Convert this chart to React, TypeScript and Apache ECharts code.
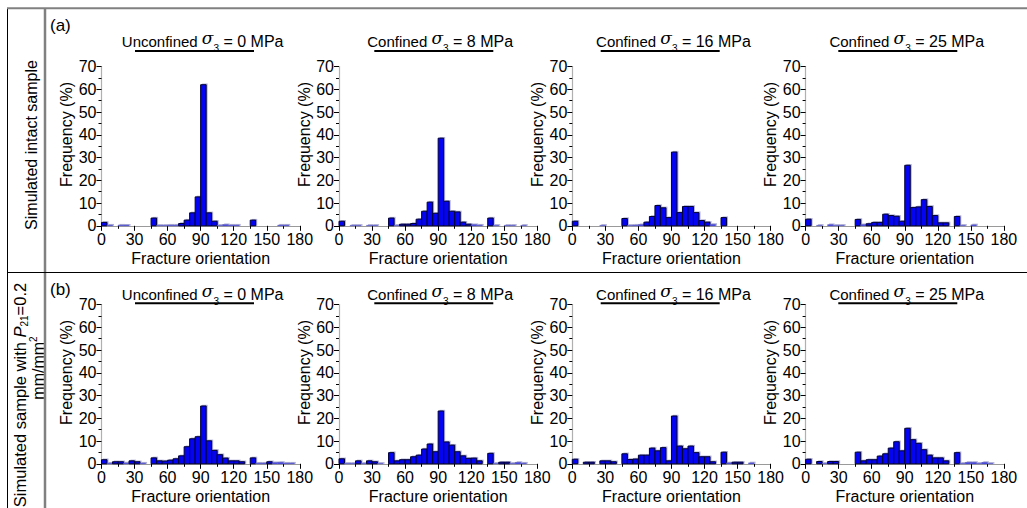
import React, { useEffect, useRef } from "react";
import * as echarts from "echarts";

// ---------- data ----------
const BIN_STARTS = [0, 5, 10, 15, 20, 25, 30, 35, 40, 45, 50, 55, 60, 65, 70, 75, 80, 85, 90, 95, 100, 105, 110, 115, 120, 125, 130, 135, 140, 145, 150, 155, 160, 165, 170, 175];
const BIN_WIDTH = 5;

const INTACT_S0 = [1.5, 0.3, 0, 0.3, 0.3, 0, 0, 0, 0, 3.4, 0.2, 0.2, 0.3, 0.3, 1.0, 2.5, 5.7, 12.7, 62, 5.7, 2.0, 0.2, 0.5, 0.3, 0.3, 0, 0, 2.5, 0, 0, 0, 0, 0.3, 0.3, 0, 0];
const INTACT_S8 = [2.0, 0, 0.2, 0.2, 0, 0.2, 0.2, 0, 0, 3.4, 0.2, 0.7, 0.7, 1.0, 2.9, 6.4, 10.4, 5.5, 38.5, 10.8, 6.4, 6.1, 1.6, 0.7, 0.5, 0.3, 0, 3.4, 0.2, 0, 0.2, 0.2, 0, 0.2, 0, 0];
const INTACT_S16 = [2.0, 0, 0, 0, 0, 0.2, 0, 0, 0, 3.2, 0.2, 0.3, 0.5, 1.6, 4.1, 8.9, 7.9, 3.6, 32.4, 5.8, 8.5, 8.5, 5.8, 2.3, 1.6, 0.6, 0, 3.6, 0, 0, 0, 0, 0, 0, 0, 0];
const INTACT_S25 = [2.9, 0, 0.2, 0, 0.5, 0.2, 0.2, 0, 0, 2.8, 0.5, 0.9, 1.5, 1.5, 5.1, 4.5, 4.2, 2.0, 26.6, 8.0, 8.3, 11.5, 8.5, 4.5, 1.3, 1.3, 0, 4.1, 0.2, 0, 0.4, 0, 0, 0, 0, 0];

const P21_S0 = [1.8, 0.3, 0.9, 0.9, 0.4, 1.3, 0.9, 0.3, 0, 2.6, 1.3, 1.2, 1.6, 2.2, 3.5, 7.5, 11.0, 11.9, 25.4, 10.1, 5.9, 4.0, 2.5, 1.3, 1.3, 0.9, 0, 2.6, 0.3, 0.3, 0.9, 0.5, 0.6, 0.3, 0.3, 0];
const P21_S8 = [2.2, 0.2, 0.2, 1.3, 0.2, 1.3, 0.9, 0.2, 0, 4.9, 1.3, 1.8, 1.8, 3.1, 3.8, 6.5, 8.7, 5.3, 23.2, 9.6, 8.2, 5.3, 3.5, 2.4, 2.5, 1.3, 0, 4.6, 0.2, 0.7, 0.7, 0.2, 0.6, 0.3, 0, 0];
const P21_S16 = [2.0, 0, 0.7, 0.7, 0, 1.3, 1.3, 0.9, 0, 4.4, 1.9, 2.1, 3.8, 3.8, 6.9, 5.7, 7.1, 1.3, 21.0, 7.8, 6.6, 7.8, 4.9, 3.1, 3.1, 0.9, 0, 5.1, 0.4, 0.7, 0.7, 0, 0.4, 0, 0, 0];
const P21_S25 = [2.0, 0, 1.0, 0.2, 1.0, 1.0, 0, 0, 0, 5.1, 1.3, 1.8, 1.8, 3.4, 4.4, 6.9, 9.7, 5.7, 15.6, 10.6, 9.0, 6.2, 3.8, 2.6, 2.6, 1.3, 0, 4.9, 0.2, 0.6, 0.6, 0.2, 0.6, 0.2, 0, 0];

const PANEL_VALUES = [INTACT_S0, INTACT_S8, INTACT_S16, INTACT_S25, P21_S0, P21_S8, P21_S16, P21_S25];

const CONDITION_LABELS = ["Unconfined", "Confined", "Confined", "Confined"];
const SIGMA3_VALUES = ["0", "8", "16", "25"];
const PANEL_LETTERS = ["(a)", "(b)"];

const X_MIN = 0;
const X_MAX = 180;
const X_INTERVAL = 30;
const Y_MIN = 0;
const Y_MAX = 70;
const Y_INTERVAL = 10;
const X_NAME = "Fracture orientation";
const Y_NAME = "Frequency (%)";

// ---------- layout ----------
const W = 1027;
const H = 508;
const COL_LEFT = [101.5, 339, 572.3, 805.6];
const PLOT_W = 198.3;
const ROW_TOP = [66.5, 304.5];
const PLOT_H = 159.3;
const TITLE_Y = [41.5, 294.5];
const UNDERLINE_Y = [51, 303.3];
const UNDERLINE_X = [135, 374.3, 600.7, 838.3];
const UNDERLINE_W = 119;

const FONT = "'Liberation Sans', Arial, Helvetica, sans-serif";
const NARROW = "'Liberation Sans Narrow', 'Arial Narrow', 'Liberation Sans', sans-serif";

function renderBar(params: any, api: any) {
  const start = api.value(0) as number;
  const v = api.value(1) as number;
  if (!(v > 0)) return null;
  const p0 = api.coord([start, 0]);
  const p1 = api.coord([start + BIN_WIDTH, v]);
  const x = p0[0];
  const y = p1[1];
  const w = p1[0] - p0[0];
  const h = p0[1] - p1[1];
  const tiny = h < 1.5;
  return {
    type: "group",
    children: [
      {
        type: "rect",
        shape: { x: x + 1.5, y: y - 1.2, width: w, height: h + 1.2 },
        style: { fill: "#b0b0d8" },
      },
      {
        type: "rect",
        shape: { x, y, width: w, height: h },
        style: { fill: "#0404f2", stroke: tiny ? "#7070c0" : "#000030", lineWidth: tiny ? 0.6 : 1 },
      },
    ],
  };
}

export default function App() {
  const ref = useRef<HTMLDivElement>(null);

  useEffect(() => {
    if (!ref.current) return;
    const chart = echarts.init(ref.current, undefined, { renderer: "svg", width: W, height: H });

    const grids: any[] = [];
    const xAxes: any[] = [];
    const yAxes: any[] = [];
    const series: any[] = [];
    const graphics: any[] = [];

    PANEL_VALUES.forEach((vals, i) => {
      const row = Math.floor(i / 4);
      const col = i % 4;
      grids.push({ left: COL_LEFT[col], top: ROW_TOP[row], width: PLOT_W, height: PLOT_H, containLabel: false });
      xAxes.push({
        type: "value",
        gridIndex: i,
        min: X_MIN,
        max: X_MAX,
        interval: X_INTERVAL,
        axisLine: { show: true, onZero: false, lineStyle: { color: "#9a9a9a", width: 1.2 } },
        axisTick: { show: true, length: 5, lineStyle: { color: "#000", width: 1 } },
        minorTick: { show: true, splitNumber: 2, length: 3, lineStyle: { color: "#000", width: 1 } },
        splitLine: { show: false },
        axisLabel: { color: "#000", fontSize: 16, fontFamily: FONT, margin: 6 },
        name: X_NAME,
        nameLocation: "middle",
        nameGap: 25,
        nameTextStyle: { color: "#000", fontSize: 16, fontFamily: FONT },
      });
      yAxes.push({
        type: "value",
        gridIndex: i,
        min: Y_MIN,
        max: Y_MAX,
        interval: Y_INTERVAL,
        axisLine: { show: true, lineStyle: { color: "#b0b0b0", width: 1.2 } },
        axisTick: { show: true, length: 5, lineStyle: { color: "#000", width: 1 } },
        minorTick: { show: true, splitNumber: 2, length: 3, lineStyle: { color: "#000", width: 1 } },
        splitLine: { show: false },
        axisLabel: { color: "#000", fontSize: 16, fontFamily: FONT, margin: 5 },
      });
      series.push({
        type: "custom",
        xAxisIndex: i,
        yAxisIndex: i,
        renderItem: renderBar,
        data: BIN_STARTS.map((s, k) => [s, vals[k]]),
      });

      // y axis name
      graphics.push({
        type: "text",
        x: COL_LEFT[col] - 35,
        y: ROW_TOP[row] + 68,
        rotation: Math.PI / 2,
        style: { text: Y_NAME, font: `16px ${FONT}`, fill: "#000", align: "center", verticalAlign: "middle" },
      });

      // panel title
      const cx = COL_LEFT[col] + PLOT_W / 2 + 2;
      graphics.push({
        type: "text",
        x: cx,
        y: TITLE_Y[row],
        style: {
          text: `{n|${CONDITION_LABELS[col]} }{s|σ}{sub|3}{m| = ${SIGMA3_VALUES[col]} MPa}`,
          align: "center",
          verticalAlign: "middle",
          fill: "#000",
          rich: {
            n: { fontFamily: NARROW, fontSize: 15, lineHeight: 20, fill: "#000" },
            s: { fontFamily: "'DejaVu Serif', 'Liberation Serif', serif", fontStyle: "italic", fontSize: 17, lineHeight: 24, verticalAlign: "top", fill: "#000" },
            sub: { fontFamily: FONT, fontSize: 10, lineHeight: 14, verticalAlign: "bottom", fill: "#000" },
            m: { fontFamily: FONT, fontSize: 16, lineHeight: 20, fill: "#000" },
          },
        },
      });
      graphics.push({
        type: "line",
        shape: { x1: UNDERLINE_X[col], y1: UNDERLINE_Y[row], x2: UNDERLINE_X[col] + UNDERLINE_W, y2: UNDERLINE_Y[row] },
        style: { stroke: "#000", lineWidth: 2 },
      });
    });

    // panel letters
    graphics.push({ type: "text", x: 50, y: 25.5, style: { text: PANEL_LETTERS[0], font: `17px ${FONT}`, fill: "#000", align: "left", verticalAlign: "middle" } });
    graphics.push({ type: "text", x: 50, y: 289.5, style: { text: PANEL_LETTERS[1], font: `17px ${FONT}`, fill: "#000", align: "left", verticalAlign: "middle" } });

    // row labels
    graphics.push({
      type: "text",
      x: 31,
      y: 145,
      rotation: Math.PI / 2,
      style: { text: "Simulated intact sample", font: `16px ${FONT}`, fill: "#000", align: "center", verticalAlign: "middle" },
    });
    graphics.push({
      type: "text",
      x: 19.5,
      y: 395,
      rotation: Math.PI / 2,
      style: {
        text: "{t|Simulated sample with }{i|P}{sub|21}{t|=0.2}",
        align: "center",
        verticalAlign: "middle",
        fill: "#000",
        rich: {
          t: { fontFamily: FONT, fontSize: 16.5, lineHeight: 20, fill: "#000" },
          i: { fontFamily: FONT, fontStyle: "italic", fontSize: 16.5, lineHeight: 20, fill: "#000" },
          sub: { fontFamily: FONT, fontSize: 10, lineHeight: 14, verticalAlign: "bottom", fill: "#000" },
        },
      },
    });
    graphics.push({
      type: "text",
      x: 38,
      y: 368,
      rotation: Math.PI / 2,
      style: {
        text: "{t|mm/mm}{sup|2}",
        align: "center",
        verticalAlign: "middle",
        fill: "#000",
        rich: {
          t: { fontFamily: FONT, fontSize: 16, lineHeight: 20, fill: "#000" },
          sup: { fontFamily: FONT, fontSize: 10, lineHeight: 14, verticalAlign: "top", fill: "#000" },
        },
      },
    });

    // table borders
    graphics.push({ type: "line", shape: { x1: 7.5, y1: 8, x2: 7.5, y2: H }, style: { stroke: "#000", lineWidth: 1 } });
    graphics.push({ type: "line", shape: { x1: 45, y1: 8, x2: 45, y2: H }, style: { stroke: "#808080", lineWidth: 2.5 } });
    graphics.push({ type: "line", shape: { x1: 7, y1: 8.3, x2: W, y2: 8.3 }, style: { stroke: "#808080", lineWidth: 2 } });
    graphics.push({ type: "line", shape: { x1: 7, y1: 272.5, x2: W, y2: 272.5 }, style: { stroke: "#000", lineWidth: 1 } });

    chart.setOption({
      animation: false,
      backgroundColor: "#fff",
      grid: grids,
      xAxis: xAxes,
      yAxis: yAxes,
      series,
      graphic: graphics,
    });

    return () => chart.dispose();
  }, []);

  return <div ref={ref} style={{ position: "absolute", left: 0, top: 0, width: W, height: H }} />;
}
